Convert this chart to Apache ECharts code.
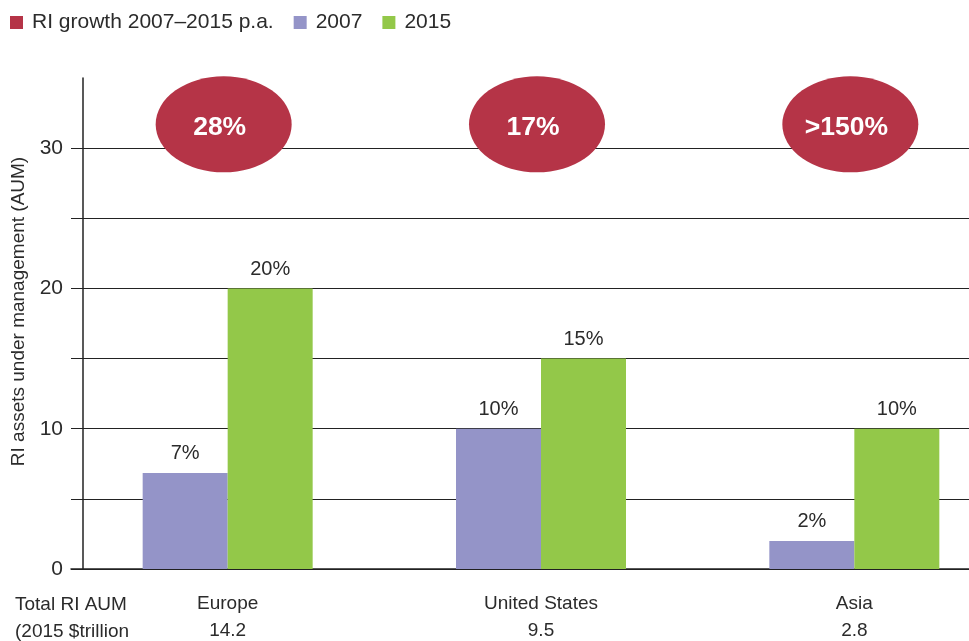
<!DOCTYPE html>
<html>
<head>
<meta charset="utf-8">
<script src="https://cdn.jsdelivr.net/npm/echarts@6/dist/echarts.min.js"></script>
<style>
  html, body { margin: 0; padding: 0; background: #fff; }
  #container { width: 969px; height: 641px; }
</style>
</head>
<body>
<div id="container"></div>
<script>
var regions = ['Europe', 'United States', 'Asia'];
var totalAum = ['14.2', '9.5', '2.8'];
var aum2007 = [6.85, 10, 2];
var aum2015 = [20, 15, 10];
var share2007 = ['7%', '10%', '2%'];
var share2015 = ['20%', '15%', '10%'];
var growthLabels = ['28%', '17%', '>150%'];
var growthLevel = [31.7, 31.7, 31.7]; // where the ellipses sit
var yTicks = [0, 10, 20, 30];

var FONT = '"Liberation Sans", Arial, sans-serif';
var TXT = '#2b2b2b';

(function() {
    var dom = document.getElementById('container');
    var myChart = echarts.init(dom);

    var growthData = [];
    for (var i = 0; i < regions.length; i++) {
        growthData.push([regions[i], growthLevel[i]]);
    };

    var option = {
        animation: false,
        textStyle: { fontFamily: FONT },
        legend: {
            left: 10,
            top: 12,
            padding: 0,
            itemWidth: 13,
            itemHeight: 13,
            itemGap: 20,
            icon: 'rect',
            textStyle: { fontFamily: FONT, fontSize: 21, color: TXT, padding: [0, 0, 0, 4] },
            data: ['RI growth 2007\u20132015 p.a.', '2007', '2015']
        },
        grid: {
            left: 71,
            right: -42,
            top: 78,
            bottom: 72,
            outerBoundsMode: 'none',
            containLabel: false
        },
        xAxis: {
            type: 'category',
            data: regions,
            axisLine: { lineStyle: { color: '#222', width: 1.5 } },
            axisTick: { show: false },
            axisLabel: {
                margin: 21,
                fontFamily: FONT,
                fontSize: 19,
                color: TXT,
                lineHeight: 27,
                formatter: function(v, idx) {
                    return v + '\n' + totalAum[idx];
                }
            }
        },
        yAxis: {
            type: 'value',
            min: 0,
            max: 35,
            interval: 5,
            offset: -12,
            name: 'RI assets under management (AUM)',
            nameLocation: 'middle',
            nameGap: 55,
            nameTextStyle: { fontFamily: FONT, fontSize: 19, color: TXT, padding: [0, 0, 0, 24] },
            axisLine: { show: true, lineStyle: { color: '#222', width: 1.5 } },
            axisTick: { show: false },
            axisLabel: {
                margin: 20,
                fontFamily: FONT,
                fontSize: 21,
                color: TXT,
                formatter: function(v) {
                    return yTicks.indexOf(v) >= 0 ? String(v) : '';
                }
            },
            splitLine: { show: true, showMaxLine: false, lineStyle: { color: '#222', width: 1.2 } }
        },
        series: [{
            name: 'RI growth 2007\u20132015 p.a.',
            type: 'scatter',
            data: growthData,
            symbol: 'circle',
            symbolSize: [136, 96],
            symbolOffset: [-4, 0],
            itemStyle: { color: '#b53447', opacity: 1 },
            z: 5,
            label: {
                show: true,
                position: 'inside',
                offset: [-4, 3],
                fontFamily: FONT,
                fontSize: 26.5,
                fontWeight: 'bold',
                color: '#fff',
                formatter: function(p) { return growthLabels[p.dataIndex]; }
            }
        }, {
            name: '2007',
            type: 'bar',
            data: aum2007,
            barWidth: 85,
            barGap: '0%',
            itemStyle: { color: '#9494c8' },
            label: {
                show: true,
                position: 'top',
                distance: 9,
                fontFamily: FONT,
                fontSize: 20,
                color: TXT,
                formatter: function(p) { return share2007[p.dataIndex]; }
            }
        }, {
            name: '2015',
            type: 'bar',
            data: aum2015,
            barWidth: 85,
            barGap: '0%',
            itemStyle: { color: '#93c849' },
            label: {
                show: true,
                position: 'top',
                distance: 9,
                fontFamily: FONT,
                fontSize: 20,
                color: TXT,
                formatter: function(p) { return share2015[p.dataIndex]; }
            }
        }],
        graphic: [{
            type: 'text',
            left: 15,
            top: 591,
            style: {
                text: 'Total RI AUM\n(2015 $trillion',
                font: '19px ' + FONT,
                lineHeight: 27,
                fill: TXT
            }
        }]
    };

    myChart.setOption(option, true);
})();
</script>
</body>
</html>
